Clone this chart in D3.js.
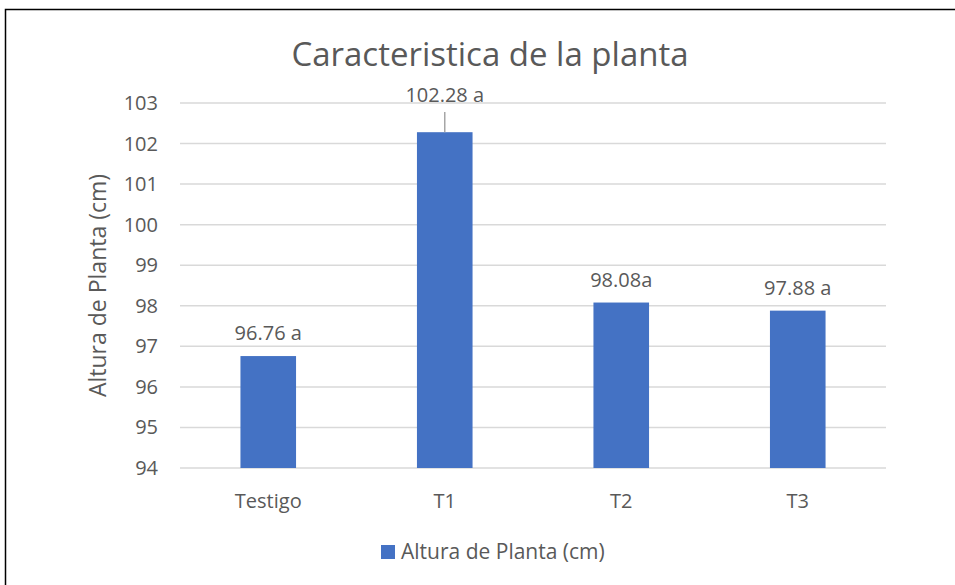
<html>
<head>
    <meta charset="UTF-8">
    <script src="https://cdnjs.cloudflare.com/ajax/libs/d3/7.8.5/d3.min.js"></script>
    <style>
        body { margin: 0; background: #fff; }
        text { font-family: "Open Sans", "Noto Sans", sans-serif; fill: #595959; }
    </style>
</head>
<body>
    <svg id="chart" width="955" height="585"></svg>
    <script>
        var categories = ["Testigo", "T1", "T2", "T3"];
        var heights = [96.76, 102.28, 98.08, 97.88];
        var labels = ["96.76 a", "102.28 a", "98.08a", "97.88 a"];
        var yTicks = [94, 95, 96, 97, 98, 99, 100, 101, 102, 103];

        var svg = d3.select("#chart");
        var margin = { left: 180, right: 69, top: 103, bottom: 117 };
        var width = 955 - margin.left - margin.right;
        var height = 585 - margin.top - margin.bottom;

        // frame (only top and left edges show in the picture)
        svg.append("path")
            .attr("d", "M5.5,585 L5.5,9.5 L955,9.5")
            .attr("fill", "none")
            .attr("stroke", "#000")
            .attr("stroke-width", 1.5);

        var x = d3.scaleBand().domain(categories).range([0, width]).paddingInner(0.685).paddingOuter(0.3425);
        var y = d3.scaleLinear().domain([94, 103]).range([height, 0]);

        var g = svg.append("g").attr("transform", `translate(${margin.left},${margin.top})`);

        g.selectAll("line.grid")
            .data(yTicks)
            .enter()
            .append("line")
            .attr("class", "grid")
            .attr("x1", 0)
            .attr("x2", width)
            .attr("y1", d => y(d))
            .attr("y2", d => y(d))
            .style("stroke", "#d9d9d9")
            .style("stroke-width", 1.5);

        g.selectAll("text.ytick")
            .data(yTicks)
            .enter()
            .append("text")
            .attr("class", "ytick")
            .attr("x", -22)
            .attr("y", d => y(d))
            .attr("dy", "0.35em")
            .style("text-anchor", "end")
            .style("font-size", "20px")
            .text(d => d);

        g.selectAll("rect.bar")
            .data(heights)
            .enter()
            .append("rect")
            .attr("class", "bar")
            .attr("x", (d, i) => x(categories[i]))
            .attr("width", x.bandwidth())
            .attr("y", d => y(d))
            .attr("height", d => height - y(d))
            .style("fill", "#4472c4");

        g.selectAll("text.xtick")
            .data(categories)
            .enter()
            .append("text")
            .attr("class", "xtick")
            .attr("x", d => x(d) + x.bandwidth() / 2)
            .attr("y", height + 40)
            .style("text-anchor", "middle")
            .style("font-size", "20px")
            .text(d => d);

        // data labels; the tallest one sits above the plot with a leader line
        g.selectAll("text.val")
            .data(heights)
            .enter()
            .append("text")
            .attr("class", "val")
            .attr("x", (d, i) => x(categories[i]) + x.bandwidth() / 2)
            .attr("y", (d, i) => d > 102 ? y(103) - 1 : y(d) - 16)
            .style("text-anchor", "middle")
            .style("font-size", "20px")
            .text((d, i) => labels[i]);

        heights.forEach((d, i) => {
            if (d > 102) {
                g.append("line")
                    .attr("x1", x(categories[i]) + x.bandwidth() / 2)
                    .attr("x2", x(categories[i]) + x.bandwidth() / 2)
                    .attr("y1", y(103) + 9)
                    .attr("y2", y(d))
                    .style("stroke", "#a6a6a6")
                    .style("stroke-width", 1.5);
            }
        });

        svg.append("text")
            .attr("x", 490)
            .attr("y", 66)
            .style("text-anchor", "middle")
            .style("font-size", "33px")
            .text("Caracteristica de la planta");

        svg.append("text")
            .attr("transform", `translate(106,${margin.top + height / 2}) rotate(-90)`)
            .style("text-anchor", "middle")
            .style("font-size", "23px")
            .text("Altura de Planta (cm)");

        var legend = svg.append("g").attr("transform", "translate(381,545)");
        legend.append("rect").attr("width", 14).attr("height", 14).style("fill", "#4472c4");
        legend.append("text").attr("x", 20).attr("y", 7).attr("dy", "0.35em")
            .style("font-size", "21px").text("Altura de Planta (cm)");
    </script>
</body>
</html>
